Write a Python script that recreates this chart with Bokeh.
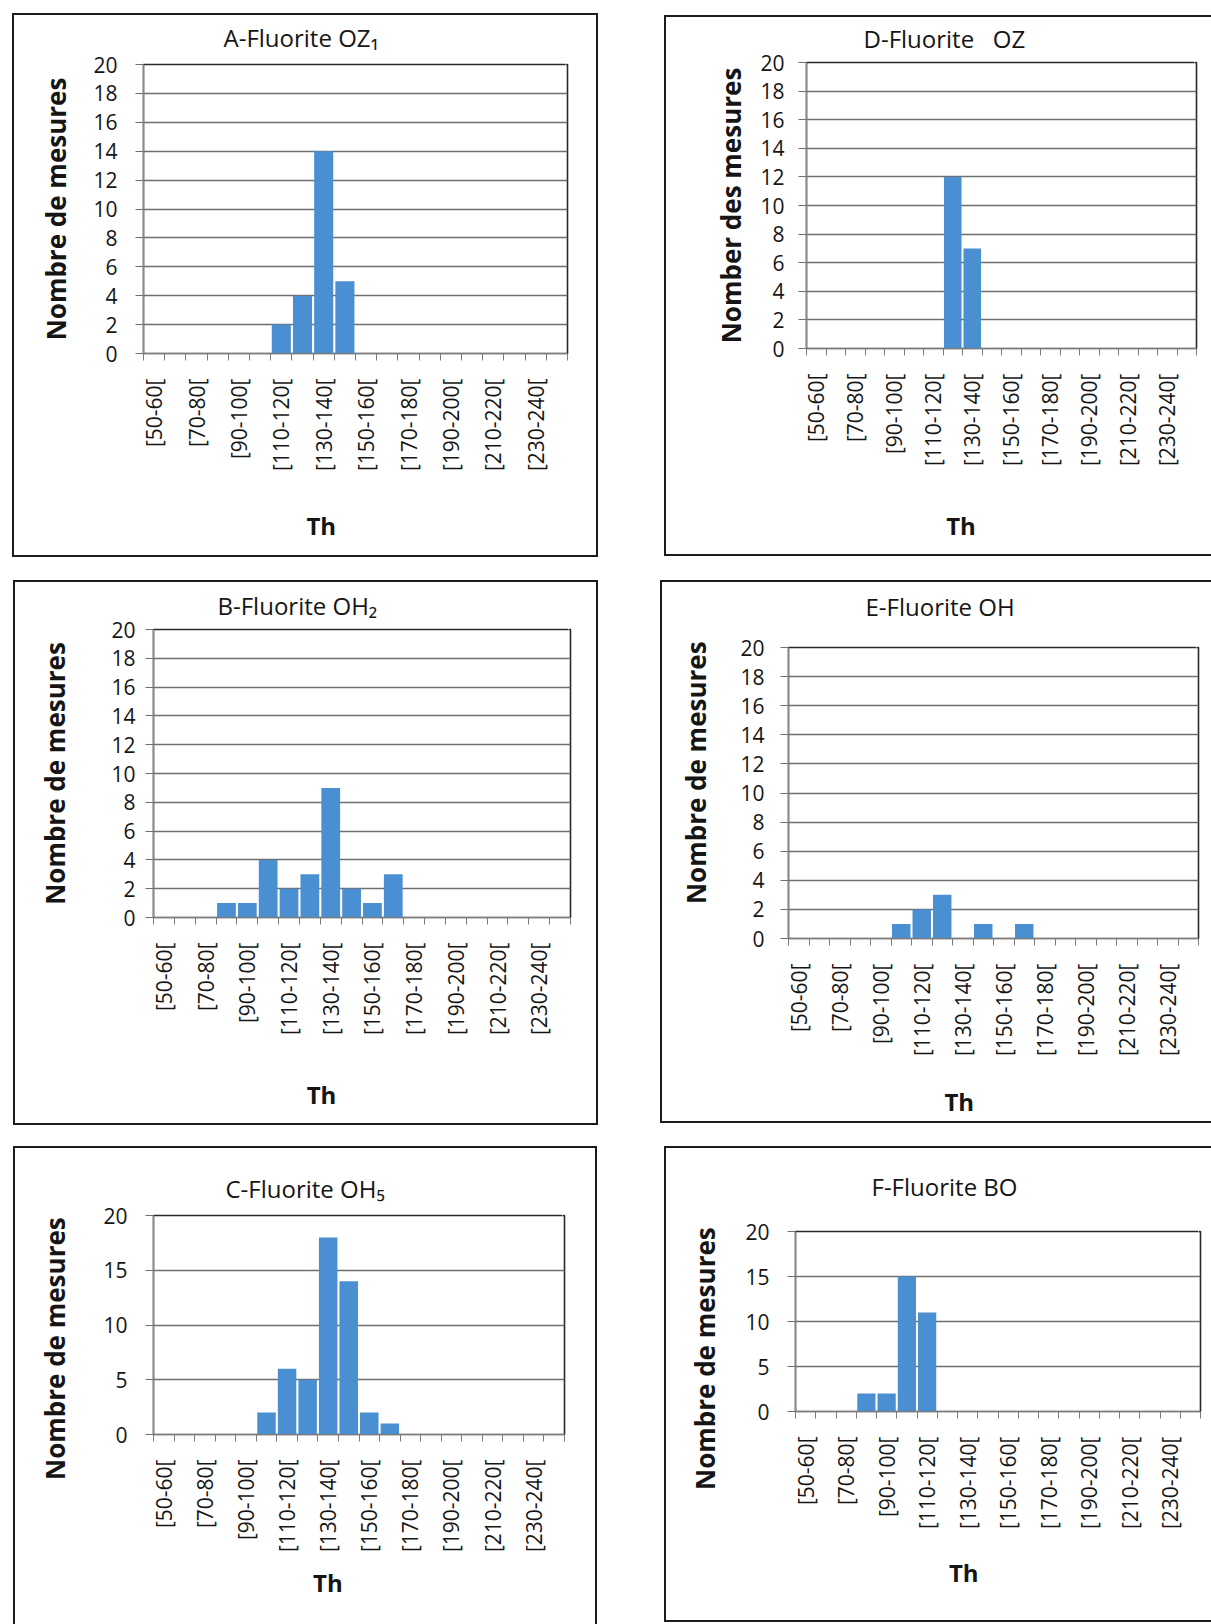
import math
from bokeh.plotting import figure
from bokeh.layouts import column, row, Spacer
from bokeh.models import Range1d, FixedTicker, LinearAxis
from bokeh.embed import file_html
from bokeh.resources import INLINE

# ---------------- data ----------------
bins = ["[50-60[", "[60-70[", "[70-80[", "[80-90[", "[90-100[", "[100-110[",
        "[110-120[", "[120-130[", "[130-140[", "[140-150[", "[150-160[",
        "[160-170[", "[170-180[", "[180-190[", "[190-200[", "[200-210[",
        "[210-220[", "[220-230[", "[230-240[", "[240-250["]

counts_A = [0, 0, 0, 0, 0, 0, 2, 4, 14, 5, 0, 0, 0, 0, 0, 0, 0, 0, 0, 0]
counts_B = [0, 0, 0, 1, 1, 4, 2, 3, 9, 2, 1, 3, 0, 0, 0, 0, 0, 0, 0, 0]
counts_C = [0, 0, 0, 0, 0, 2, 6, 5, 18, 14, 2, 1, 0, 0, 0, 0, 0, 0, 0, 0]
counts_D = [0, 0, 0, 0, 0, 0, 0, 12, 7, 0, 0, 0, 0, 0, 0, 0, 0, 0, 0, 0]
counts_E = [0, 0, 0, 0, 0, 1, 2, 3, 0, 1, 0, 1, 0, 0, 0, 0, 0, 0, 0, 0]
counts_F = [0, 0, 0, 2, 2, 15, 11, 0, 0, 0, 0, 0, 0, 0, 0, 0, 0, 0, 0, 0]

titles = {"A": "A-Fluorite OZ\u2081", "B": "B-Fluorite OH\u2082", "C": "C-Fluorite OH\u2085",
          "D": "D-Fluorite\u00a0\u00a0 OZ", "E": "E-Fluorite OH", "F": "F-Fluorite BO"}
ylabels = {"A": "Nombre de mesures", "B": "Nombre de mesures", "C": "Nombre de mesures",
           "D": "Nomber des mesures", "E": "Nombre de mesures", "F": "Nombre de mesures"}
xlabel = "Th"
yticks_2 = [0, 2, 4, 6, 8, 10, 12, 14, 16, 18, 20]
yticks_5 = [0, 5, 10, 15, 20]

# ---------------- style ----------------
FONT = "Open Sans"
BAR = "#4a8fd1"
GRID = "#6f6f6f"
TXT = "#151515"
BOX = "2px solid #1c1c1c"
GAP_TICK = 19.4   # where the invisible spacer tick sits (inside the x range)
NB = "\u00a0"     # non-breaking space used to nudge axis titles off-centre


def make_panel(key, counts, yticks, w, h, ml, mr, mt, mb,
               t_off, t_gap, y_tstand, y_lstand, x_lstand,
               x_pad=0, y_pad_start=0, y_pad_end=0,
               sides=("top", "left", "bottom", "right")):
    xs = list(range(len(bins)))
    p = figure(width=w, height=h, x_range=Range1d(-0.5, len(bins) - 0.5),
               y_range=Range1d(0, 20), output_backend="svg", toolbar_location=None,
               min_border_left=ml, min_border_right=mr, min_border_top=mt,
               min_border_bottom=mb, title=titles[key])
    p.vbar(x=xs, top=counts, bottom=0, width=0.9, fill_color=BAR, line_color=None)

    p.background_fill_color = "white"
    p.border_fill_color = "white"
    p.outline_line_color = "#2a2a2a"
    p.outline_line_width = 1.6

    # title
    p.title.text_font = FONT
    p.title.text_font_size = "24px"
    p.title.text_font_style = "normal"
    p.title.text_color = TXT
    p.title.align = "left"
    p.title.offset = t_off
    p.title.standoff = 4
    # blank gap between title and plot area (a top axis with an invisible tick)
    if t_gap > 0:
        gap = LinearAxis(ticker=FixedTicker(ticks=[GAP_TICK]), axis_line_color=None,
                         major_tick_line_color="white", minor_tick_line_color=None,
                         major_tick_out=t_gap, major_tick_in=0, minor_tick_out=0,
                         minor_tick_in=0, major_label_standoff=0,
                         major_label_overrides={GAP_TICK: ""},
                         major_label_text_color="white", major_label_text_font_size="1px")
        p.add_layout(gap, "above")

    # x axis
    xa = p.below[0]
    xa.ticker = FixedTicker(ticks=xs[0::2], minor_ticks=[i - 0.5 for i in range(len(bins) + 1)])
    xa.major_label_overrides = {i: bins[i] for i in xs[0::2]}
    xa.major_label_orientation = math.pi / 2
    xa.major_label_text_font = FONT
    xa.major_label_text_font_size = "21px"
    xa.major_label_text_color = TXT
    xa.major_label_standoff = 18
    xa.major_tick_line_color = None
    xa.major_tick_out = 0
    xa.major_tick_in = 0
    xa.minor_tick_line_color = "#7a7a7a"
    xa.minor_tick_out = 7
    xa.minor_tick_in = 0
    xa.axis_line_color = "#7a7a7a"
    xa.axis_line_width = 1.2
    xa.axis_label = xlabel + NB * x_pad
    xa.axis_label_text_font = FONT
    xa.axis_label_text_font_size = "24px"
    xa.axis_label_text_font_style = "bold"
    xa.axis_label_text_color = TXT
    xa.axis_label_standoff = x_lstand

    # y axis
    ya = p.left[0]
    ya.ticker = FixedTicker(ticks=yticks)
    ya.major_label_text_font = FONT
    ya.major_label_text_font_size = "21px"
    ya.major_label_text_color = TXT
    ya.major_label_standoff = y_tstand
    ya.major_tick_line_color = GRID
    ya.major_tick_out = 8
    ya.major_tick_in = 0
    ya.minor_tick_line_color = None
    ya.axis_line_color = "#8a8a8a"
    ya.axis_line_width = 1.2
    ya.axis_label = NB * y_pad_start + ylabels[key] + NB * y_pad_end
    ya.axis_label_text_font = FONT
    ya.axis_label_text_font_size = "26px"
    ya.axis_label_text_font_style = "bold"
    ya.axis_label_text_color = TXT
    ya.axis_label_standoff = y_lstand

    p.xgrid.grid_line_color = None
    p.ygrid.grid_line_color = GRID
    p.ygrid.grid_line_width = 1.4

    p.styles = {f"border-{s}": BOX for s in sides}
    return p


pA = make_panel("A", counts_A, yticks_2, 586, 544, 129, 33, 49, 206,
                t_off=80, t_gap=9, y_tstand=18, y_lstand=16, x_lstand=35, x_pad=11)
pD = make_panel("D", counts_D, yticks_2, 547, 541, 140, 17, 44, 210,
                t_off=57, t_gap=6, y_tstand=14, y_lstand=8, x_lstand=40, x_pad=13,
                sides=("top", "left", "bottom"))
pB = make_panel("B", counts_B, yticks_2, 585, 545, 138, 30, 47, 210,
                t_off=64, t_gap=6, y_tstand=10, y_lstand=35, x_lstand=40, x_pad=13)
pE = make_panel("E", counts_E, yticks_2, 551, 543, 126, 15, 65, 187,
                t_off=77, t_gap=23, y_tstand=16, y_lstand=23, x_lstand=26, x_pad=11,
                y_pad_start=6, sides=("top", "left", "bottom"))
pC = make_panel("C", counts_C, yticks_5, 584, 478, 138, 35, 67, 192,
                t_off=72, t_gap=9, y_tstand=18, y_lstand=27, x_lstand=11, x_pad=10,
                y_pad_end=7, sides=("top", "left", "right"))
pF = make_panel("F", counts_F, yticks_5, 547, 476, 129, 13, 83, 213,
                t_off=76, t_gap=27, y_tstand=18, y_lstand=19, x_lstand=24, x_pad=11,
                y_pad_end=11, sides=("top", "left", "bottom"))


def cell(p, dy=0):
    # wrap each plot on its own so that Bokeh does not align frames across a row
    return column(Spacer(width=10, height=dy), p, spacing=0)


layout = column(
    Spacer(width=10, height=13),
    row(Spacer(width=12, height=10), cell(pA, 0), Spacer(width=66, height=10), cell(pD, 2)),
    Spacer(width=10, height=23),
    row(Spacer(width=13, height=10), cell(pB, 0), Spacer(width=62, height=10), cell(pE, 0)),
    Spacer(width=10, height=21),
    row(Spacer(width=13, height=10), cell(pC, 0), Spacer(width=67, height=10), cell(pF, 0)),
)

open("out.html", "w").write(file_html(layout, INLINE))
